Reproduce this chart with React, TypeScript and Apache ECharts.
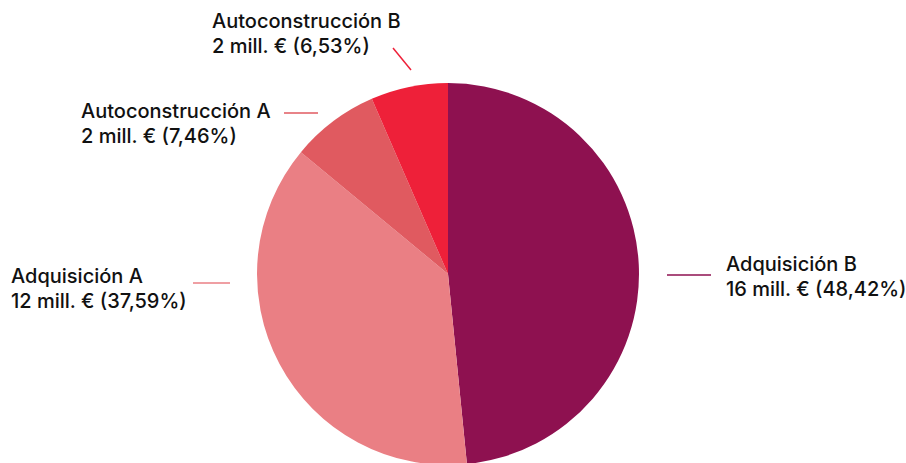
import React, { useEffect, useRef } from "react";
import * as echarts from "echarts";

const categories = ["Adquisición B", "Adquisición A", "Autoconstrucción A", "Autoconstrucción B"];
const millions = [16, 12, 2, 2];
const shares = [48.42, 37.59, 7.46, 6.53];
const colors = ["#8E1150", "#EA7F84", "#E05A60", "#EE2039"];

// label placement (top-left of text block) and guide-line segments
const labelPlacement = [
  { x: 726, y: 251, line: [[667, 275], [711, 275]] },
  { x: 11, y: 263, line: [[230, 283], [193, 283]] },
  { x: 81, y: 98, line: [[318, 113], [284, 113]] },
  { x: 212, y: 8, line: [[411, 70], [393, 48]] },
];

const fmtPct = (v: number) => v.toFixed(2).replace(".", ",");

export default function App() {
  const ref = useRef<HTMLDivElement>(null);
  useEffect(() => {
    document.body.style.margin = "0";
    if (!ref.current) return;
    const chart = echarts.init(ref.current, null, { renderer: "svg" });
    chart.setOption({
      animation: false,
      backgroundColor: "#ffffff",
      series: [
        {
          type: "pie",
          center: [448, 274],
          radius: 191,
          startAngle: 90,
          clockwise: true,
          avoidLabelOverlap: false,
          itemStyle: { borderWidth: 0 },
          emphasis: { disabled: true },
          data: categories.map((name, i) => ({
            name,
            value: shares[i],
            itemStyle: { color: colors[i] },
            label: {
              formatter: `${name}\n${millions[i]} mill. € (${fmtPct(shares[i])}%)`,
            },
          })),
          label: {
            show: true,
            position: "outside",
            color: "#111111",
            fontFamily: "Inter",
            fontWeight: 500,
            fontSize: 20,
            lineHeight: 25,
          },
          labelLine: {
            show: true,
            lineStyle: { width: 1.5 },
          },
          labelLayout: (params: any) => {
            const p = labelPlacement[params.dataIndex];
            return {
              x: p.x,
              y: p.y,
              align: "left",
              verticalAlign: "top",
              labelLinePoints: p.line,
            };
          },
        },
      ],
    });
    return () => chart.dispose();
  }, []);
  return <div ref={ref} style={{ width: 906, height: 463 }} />;
}
